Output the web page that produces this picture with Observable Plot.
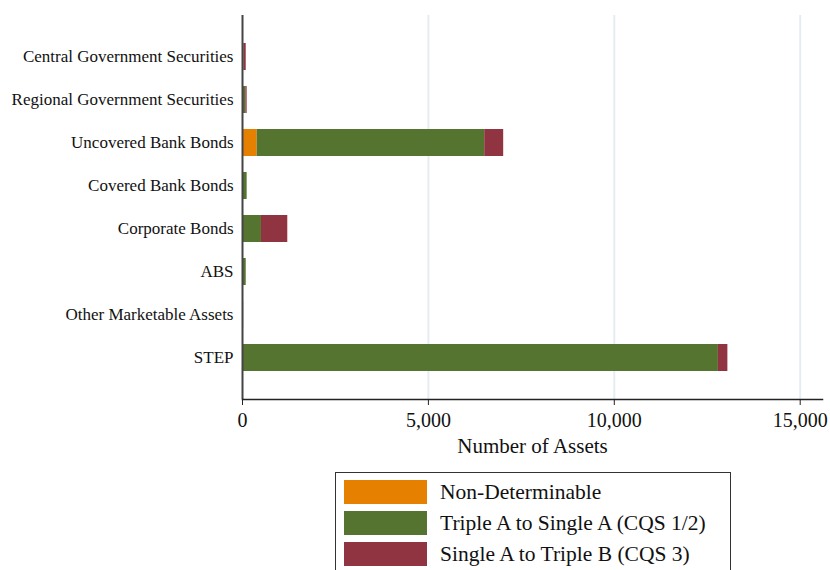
<!DOCTYPE html>
<html>
<head>
<meta charset="utf-8">
<script src="https://cdn.jsdelivr.net/npm/d3@7"></script>
<script src="https://cdn.jsdelivr.net/npm/@observablehq/plot@0.6"></script>
<style>
  html, body { margin: 0; padding: 0; background: #fff; }
  #wrap { position: relative; width: 830px; height: 570px; overflow: hidden; font-family: "Liberation Serif", "DejaVu Serif", serif; }
  #legend { position: absolute; left: 335px; top: 472px; width: 396px; height: 120px; border: 1.5px solid #333; box-sizing: border-box; }
  .row { position: absolute; left: 8px; height: 24px; display: flex; align-items: center; }
  .sw { width: 83px; height: 24px; margin-right: 13px; }
  .lab { font-size: 21.5px; color: #111; white-space: nowrap; }
</style>
</head>
<body>
<div id="wrap">
  <div id="chart"></div>
  <div id="legend"></div>
</div>
<script>
const categories = [
  "Central Government Securities",
  "Regional Government Securities",
  "Uncovered Bank Bonds",
  "Covered Bank Bonds",
  "Corporate Bonds",
  "ABS",
  "Other Marketable Assets",
  "STEP"
];
const seriesNames = ["Non-Determinable", "Triple A to Single A (CQS 1/2)", "Single A to Triple B (CQS 3)"];
const seriesColors = ["#E58000", "#557430", "#8F3440"];
const nonDeterminable = [0, 0, 395, 0, 10, 10, 0, 10];
const tripleAtoSingleA = [40, 90, 6120, 125, 500, 90, 30, 12790];
const singleAtoTripleB = [60, 35, 510, 0, 708, 0, 0, 255];
const xTicks = [0, 5000, 10000, 15000];

const seriesValues = [nonDeterminable, tripleAtoSingleA, singleAtoTripleB];
const data = [];
seriesNames.forEach((s, si) => {
  categories.forEach((c, ci) => {
    data.push({category: c, series: s, value: seriesValues[si][ci], order: si});
  });
});

const chart = Plot.plot({
  width: 830,
  height: 460,
  marginLeft: 242,
  marginRight: 8,
  marginTop: 15,
  marginBottom: 61,
  style: {fontFamily: "'Liberation Serif', 'DejaVu Serif', serif", background: "#fff", color: "#111"},
  x: {domain: [0, 15600], ticks: xTicks, tickFormat: d3.format(","), label: null},
  y: {domain: categories, paddingInner: 0.376, paddingOuter: 0.623, label: null},
  color: {domain: seriesNames, range: seriesColors},
  marks: [
    Plot.gridX(xTicks.slice(1), {stroke: "#e6edf2", strokeOpacity: 1, strokeWidth: 2}),
    Plot.barX(data, Plot.stackX({
      y: "category",
      x: "value",
      fill: "series",
      order: "order"
    })),
    Plot.axisY({tickSize: 0, tickPadding: 9, fontSize: 17, label: null}),
    Plot.axisX({ticks: xTicks, tickFormat: d3.format(","), tickSize: 6, tickPadding: 7, fontSize: 20, label: null, stroke: "#222"}),
    Plot.text(["Number of Assets"], {frameAnchor: "bottom", lineAnchor: "middle", dy: 47, fontSize: 21, fill: "#111", x: 7800}),
    Plot.ruleX([0], {stroke: "#444", strokeWidth: 2}),
    Plot.frame({anchor: "bottom", stroke: "#222", strokeWidth: 1.5})
  ]
});
document.getElementById("chart").appendChild(chart);

const legend = document.getElementById("legend");
seriesNames.forEach((s, i) => {
  const row = document.createElement("div");
  row.className = "row";
  row.style.top = (7 + i * 31) + "px";
  const sw = document.createElement("div");
  sw.className = "sw";
  sw.style.background = seriesColors[i];
  const lab = document.createElement("div");
  lab.className = "lab";
  lab.textContent = s;
  row.appendChild(sw);
  row.appendChild(lab);
  legend.appendChild(row);
});
</script>
</body>
</html>
